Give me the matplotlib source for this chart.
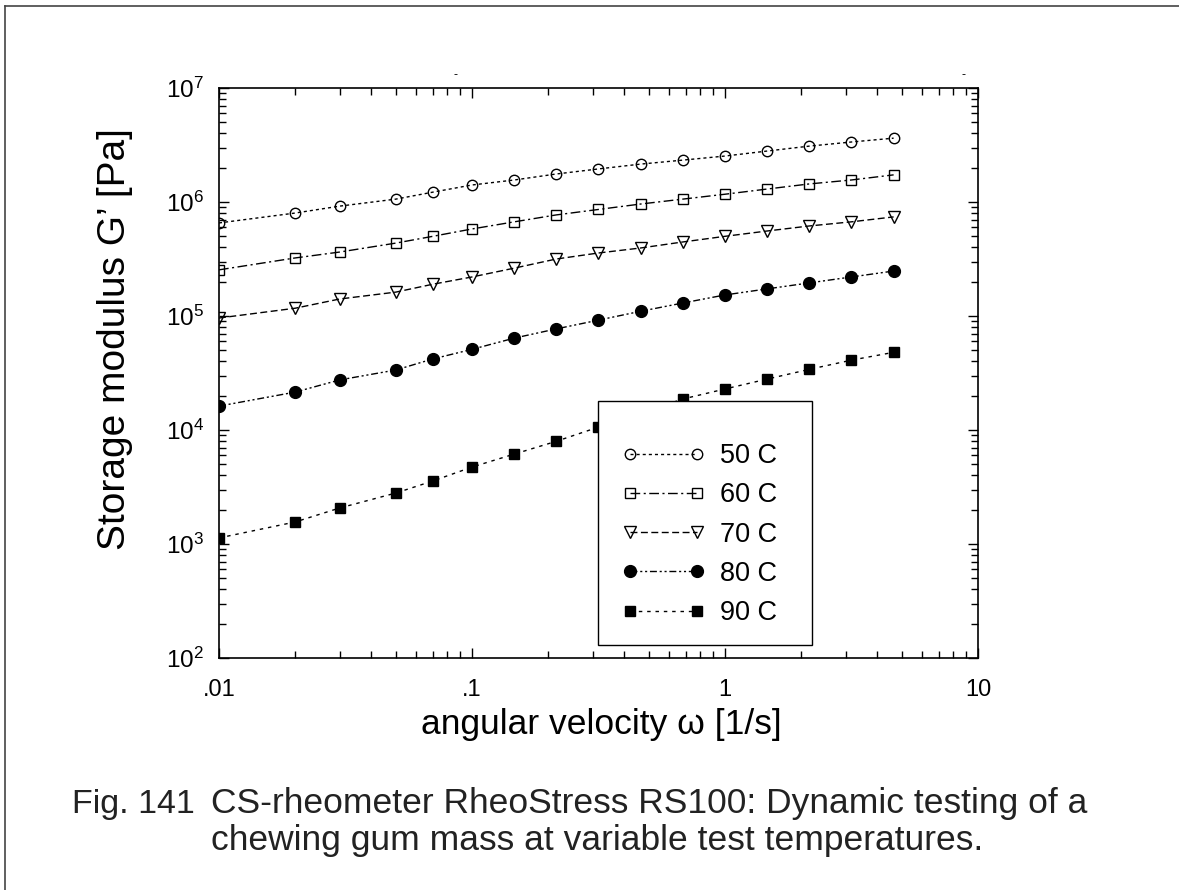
import matplotlib
matplotlib.use('Agg')
import matplotlib.pyplot as plt
from matplotlib.patches import Rectangle
from matplotlib.lines import Line2D
from matplotlib.ticker import LogLocator, NullFormatter

plt.rcParams['font.family'] = ['Liberation Sans', 'DejaVu Sans']
plt.rcParams['mathtext.fontset'] = 'custom'
plt.rcParams['mathtext.rm'] = 'Liberation Sans'
plt.rcParams['mathtext.it'] = 'Liberation Sans'

# angular velocity [1/s]
omega = [0.01, 0.02, 0.03, 0.05, 0.07, 0.1, 0.147, 0.215, 0.316, 0.464,
         0.681, 1.0, 1.47, 2.15, 3.16, 4.64]

# storage modulus G' [Pa] per temperature
g_50 = [6.55e5, 8.0e5, 9.2e5, 1.06e6, 1.22e6, 1.41e6, 1.56e6, 1.76e6,
        1.95e6, 2.15e6, 2.33e6, 2.53e6, 2.8e6, 3.09e6, 3.36e6, 3.63e6]
g_60 = [2.54e5, 3.23e5, 3.64e5, 4.36e5, 5.0e5, 5.8e5, 6.7e5, 7.7e5,
        8.6e5, 9.6e5, 1.06e6, 1.17e6, 1.3e6, 1.44e6, 1.56e6, 1.73e6]
g_70 = [9.6e4, 1.17e5, 1.41e5, 1.62e5, 1.9e5, 2.2e5, 2.63e5, 3.16e5,
        3.57e5, 3.95e5, 4.46e5, 5.0e5, 5.57e5, 6.16e5, 6.7e5, 7.4e5]
g_80 = [1.62e4, 2.15e4, 2.75e4, 3.36e4, 4.2e4, 5.1e4, 6.4e4, 7.7e4,
        9.2e4, 1.1e5, 1.3e5, 1.53e5, 1.73e5, 1.95e5, 2.2e5, 2.48e5]
g_90 = [1.13e3, 1.56e3, 2.07e3, 2.8e3, 3.57e3, 4.73e3, 6.15e3, 7.95e3,
        1.06e4, 1.4e4, 1.87e4, 2.29e4, 2.8e4, 3.4e4, 4.1e4, 4.8e4]

labels = ['50 C', '60 C', '70 C', '80 C', '90 C']

x_ticks = [0.01, 0.1, 1, 10]
x_ticklabels = ['.01', '.1', '1', '10']
y_ticks = [1e2, 1e3, 1e4, 1e5, 1e6, 1e7]
y_ticklabels = [r'$\mathregular{10^{%d}}$' % e for e in range(2, 8)]

fig = plt.figure(figsize=(11.79, 8.90), dpi=100)
ax = fig.add_axes([219 / 1179, 1 - 658 / 890, 759 / 1179, 570 / 890])

styles = [
    dict(marker='o', mfc='none', ms=7.5, ls=(0, (2.2, 2.2))),
    dict(marker='s', mfc='none', ms=7.5, ls=(0, (7, 2.5, 1.5, 2.5))),
    dict(marker='v', mfc='none', ms=8, ls=(0, (5, 2.5))),
    dict(marker='o', mfc='black', ms=8.5, ls=(0, (5, 2, 1.5, 2, 1.5, 2))),
    dict(marker='s', mfc='black', ms=7.5, ls=(0, (2.5, 3.5))),
]
series = [g_50, g_60, g_70, g_80, g_90]
for g, lab, st in zip(series, labels, styles):
    ax.plot(omega, g, color='black', lw=1.0, mec='black', mew=1.0,
            label=lab, zorder=2, **st)

ax.set_xscale('log')
ax.set_yscale('log')
ax.set_xlim(0.01, 10)
ax.set_ylim(1e2, 1e7)
ax.set_xticks(x_ticks)
ax.set_xticklabels(x_ticklabels)
ax.set_yticks(y_ticks)
ax.set_yticklabels(y_ticklabels)
ax.xaxis.set_minor_locator(LogLocator(base=10, subs=range(2, 10)))
ax.yaxis.set_minor_locator(LogLocator(base=10, subs=range(2, 10)))
ax.xaxis.set_minor_formatter(NullFormatter())
ax.yaxis.set_minor_formatter(NullFormatter())
ax.tick_params(which='both', direction='in', top=True, right=True,
               labelsize=17, width=1.0)
ax.tick_params(axis='x', which='major', length=7, pad=15)
ax.tick_params(axis='y', which='major', length=7, labelsize=17.5, pad=11)
ax.tick_params(which='minor', length=5)
for sp in ax.spines.values():
    sp.set_linewidth(1.2)

# legend box (opaque, drawn over the curves)
ax.add_patch(Rectangle((598, 890 - 645), 214, 244, transform=None,
                       facecolor='white', edgecolor='black', lw=1.0,
                       zorder=4))
leg = ax.legend(loc='upper left', bbox_to_anchor=(622 / 1179, 1 - 443 / 890),
                bbox_transform=fig.transFigure, frameon=False, numpoints=2,
                handlelength=3.07, handletextpad=0.55, labelspacing=0.49,
                fontsize=19.5, borderpad=0, borderaxespad=0)
leg.set_zorder(5)

fig.text(601 / 1179, 1 - 734 / 890, 'angular velocity ω [1/s]',
         ha='center', va='baseline', fontsize=25.5)
fig.text(115 / 1179, 1 - 339 / 890, 'Storage modulus G’ [Pa]',
         ha='center', va='center', rotation=90, fontsize=28)

# scan artifacts above the plot
fig.text(455 / 1179, 1 - 75 / 890, '-', ha='center', va='center', fontsize=9)
fig.text(963 / 1179, 1 - 75 / 890, '-', ha='center', va='center', fontsize=9)

cap_color = '#222222'
fig.text(72 / 1179, 1 - 813 / 890, 'Fig. 141', ha='left', va='baseline',
         fontsize=24.5, color=cap_color)
fig.text(211 / 1179, 1 - 813 / 890,
         'CS-rheometer RheoStress RS100: Dynamic testing of a',
         ha='left', va='baseline', fontsize=25.5, color=cap_color)
fig.text(211 / 1179, 1 - 850 / 890,
         'chewing gum mass at variable test temperatures.',
         ha='left', va='baseline', fontsize=25.5, color=cap_color)

# page frame (left and top edge)
fig.add_artist(Line2D([5 / 1179, 5 / 1179], [0, 1 - 6 / 890],
                      transform=fig.transFigure, color='#444444', lw=1.2))
fig.add_artist(Line2D([5 / 1179, 1], [1 - 6 / 890, 1 - 6 / 890],
                      transform=fig.transFigure, color='#444444', lw=1.2))

fig.savefig('out.png', dpi=100)
